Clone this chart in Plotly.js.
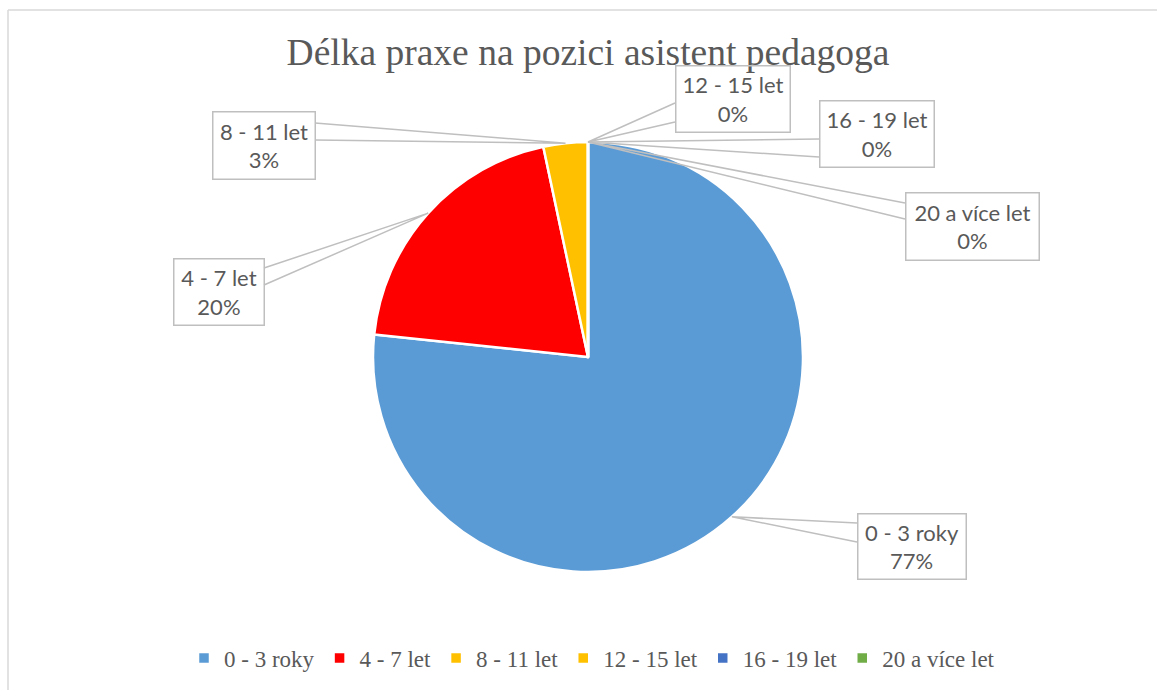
<!DOCTYPE html>
<html>
<head>
<meta charset="utf-8">
<script src="https://cdn.plot.ly/plotly-3.0.1.min.js"></script>
<style>
  html, body { margin: 0; padding: 0; background: #ffffff; }
  #chart { width: 1157px; height: 690px; }
</style>
</head>
<body>
<div id="chart"></div>
<script>
// ---- data ----
const titleText = 'Délka praxe na pozici asistent pedagoga';
const categories = ['0 - 3 roky', '4 - 7 let', '8 - 11 let', '12 - 15 let', '16 - 19 let', '20 a více let'];
const counts = [23, 6, 1, 0, 0, 0];
const colors = ['#5B9BD5', '#FF0000', '#FFC000', '#FFC000', '#4472C4', '#70AD47'];

// ---- layout geometry (pixels) ----
const W = 1157, H = 690;
const pieBox = { x0: 373, x1: 803, y0: 142, y1: 572 };
// label boxes: [x0, y0, x1, y1, side of leader, leader y1, leader y2]
const labelBoxes = [
  [857, 513, 966, 579, 'left', 523, 542],
  [173, 258, 264, 325, 'right', 268, 285],
  [212, 112, 315, 180, 'right', 123, 140],
  [675, 65, 790, 132, 'left', 103, 122],
  [819, 100, 934, 167, 'left', 139, 157],
  [905, 192, 1039, 260, 'left', 203, 219]
];

const px = x => x / W;
const py = y => 1 - y / H;

const total = counts.reduce((a, b) => a + b, 0);
const cx = (pieBox.x0 + pieBox.x1) / 2, cy = (pieBox.y0 + pieBox.y1) / 2;
const R = (pieBox.x1 - pieBox.x0) / 2;

const annotations = [];
const shapes = [];
let cum = 0;
counts.forEach((v, i) => {
  const ang = 2 * Math.PI * (cum + v / 2) / total;
  cum += v;
  const tx = cx + R * Math.sin(ang), ty = cy - R * Math.cos(ang);
  const b = labelBoxes[i];
  const ex = b[4] === 'left' ? b[0] : b[2];
  shapes.push({
    type: 'path', xref: 'paper', yref: 'paper', layer: 'above',
    path: `M ${px(ex)},${py(b[5])} L ${px(tx)},${py(ty)} L ${px(ex)},${py(b[6])}`,
    line: { color: '#BFBFBF', width: 1.5 }
  });
  const pct = Math.round(v / total * 100) + '%';
  annotations.push({
    xref: 'paper', yref: 'paper',
    x: px((b[0] + b[2]) / 2), y: py((b[1] + b[3]) / 2),
    xanchor: 'center', yanchor: 'middle',
    text: categories[i] + '<br>' + pct,
    showarrow: false, align: 'center',
    width: b[2] - b[0] - 2, height: b[3] - b[1] - 2,
    borderpad: 0, borderwidth: 1.5, bordercolor: '#BFBFBF', bgcolor: 'rgba(255,255,255,0)',
    font: { family: 'Lato, "Open Sans", sans-serif', size: 22, color: '#595959' }
  });
});

// chart frame
shapes.push({ type: 'line', xref: 'paper', yref: 'paper', x0: px(8), x1: px(8), y0: py(10), y1: py(H + 5), line: { color: '#D9D9D9', width: 1.5 } });
shapes.push({ type: 'line', xref: 'paper', yref: 'paper', x0: px(8), x1: px(W + 5), y0: py(10), y1: py(10), line: { color: '#D9D9D9', width: 1.5 } });

const trace = {
  type: 'pie',
  labels: categories,
  values: counts,
  sort: false,
  direction: 'clockwise',
  rotation: 0,
  textinfo: 'none',
  hoverinfo: 'none',
  marker: { colors: colors, line: { color: '#FFFFFF', width: 2.5 } },
  domain: { x: [px(pieBox.x0), px(pieBox.x1)], y: [py(pieBox.y1), py(pieBox.y0)] }
};

const layout = {
  width: W, height: H,
  margin: { l: 0, r: 0, t: 0, b: 0 },
  paper_bgcolor: '#FFFFFF',
  title: {
    text: titleText,
    x: px(588), xanchor: 'center',
    y: py(52), yanchor: 'middle',
    font: { family: '"Liberation Serif", "Times New Roman", serif', size: 37.5, color: '#595959' }
  },
  showlegend: true,
  legend: {
    orientation: 'h',
    x: px(592), xanchor: 'center',
    y: py(658), yanchor: 'middle',
    font: { family: '"Liberation Serif", "Times New Roman", serif', size: 23, color: '#595959' },
    itemclick: false, itemdoubleclick: false
  },
  annotations: annotations,
  shapes: shapes
};

Plotly.newPlot('chart', [trace], layout, { displayModeBar: false, staticPlot: true });
</script>
</body>
</html>
